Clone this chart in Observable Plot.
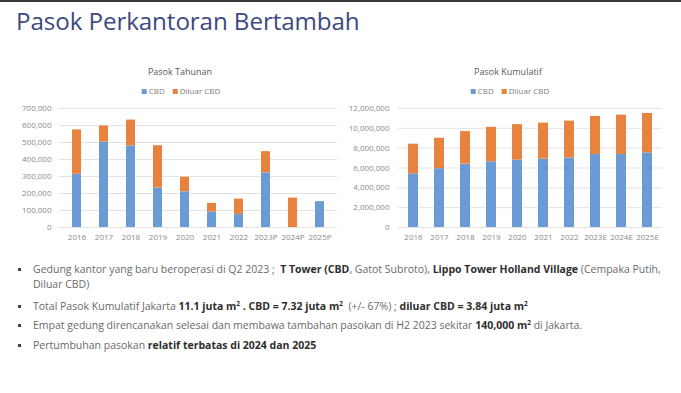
<!DOCTYPE html>
<html>
<head>
<meta charset="utf-8">
<script src="https://cdn.jsdelivr.net/npm/d3@7"></script>
<script src="https://cdn.jsdelivr.net/npm/@observablehq/plot@0.6"></script>
<style>
  html, body { margin: 0; padding: 0; background: #fff; }
  #page { position: relative; width: 681px; height: 393px; overflow: hidden; background: #fff; font-family: "Open Sans", sans-serif; }
  #topbar { position: absolute; left: 0; top: 0; width: 681px; height: 2px; background: #3a3a3a; }
  #title { position: absolute; left: 16px; top: 4px; font-size: 24.2px; color: #3c4a83; white-space: nowrap; letter-spacing: -0.1px; }
  .ctitle { position: absolute; top: 65px; font-size: 9px; color: #595959; white-space: nowrap; transform: translateX(-50%); }
  .legend { position: absolute; top: 85px; font-size: 8px; color: #7f7f7f; white-space: nowrap; transform: translateX(-50%); }
  .legend span.sw { display: inline-block; width: 5px; height: 5px; margin-right: 2px; vertical-align: 0px; }
  .legend span.it { margin-right: 8px; }
  .chart { position: absolute; top: 100px; }
  #bullets { position: absolute; left: 0; top: 262px; width: 681px; font-size: 10.5px; color: #6a6a6a; }
  .b { position: absolute; left: 33px; white-space: nowrap; line-height: 15px; }
  .b::before { content: ""; position: absolute; left: -15px; top: 6px; width: 3px; height: 3px; background: #444; }
  .b strong { color: #2e2e2e; font-weight: 700; }
  sup { font-size: 6.5px; vertical-align: 4px; line-height: 0; }
</style>
</head>
<body>
<div id="page">
  <div id="topbar"></div>
  <div id="title">Pasok Perkantoran Bertambah</div>
  <div class="ctitle" style="left:180px">Pasok Tahunan</div>
  <div class="ctitle" style="left:508px">Pasok Kumulatif</div>
  <div class="legend" id="leg1" style="left:185px"></div>
  <div class="legend" id="leg2" style="left:514px"></div>
  <div class="chart" id="c1" style="left:0px"></div>
  <div class="chart" id="c2" style="left:340px"></div>
  <div id="bullets">
    <div class="b" style="top:0px">Gedung kantor yang baru beroperasi di Q2 2023 ;&nbsp; <strong>T Tower (CBD</strong>, Gatot Subroto), <strong>Lippo Tower Holland Village</strong> (Cempaka Putih,<br>Diluar CBD)</div>
    <div class="b" style="top:37px">Total Pasok Kumulatif Jakarta <strong>11.1 juta m<sup>2</sup> . CBD = 7.32 juta m<sup>2</sup></strong>&nbsp; (+/- 67%) ; <strong>diluar CBD = 3.84 juta m<sup>2</sup></strong></div>
    <div class="b" style="top:56px">Empat gedung direncanakan selesai dan membawa tambahan pasokan di H2 2023 sekitar <strong>140,000 m<sup>2</sup></strong> di Jakarta.</div>
    <div class="b" style="top:76px">Pertumbuhan pasokan <strong>relatif terbatas di 2024 dan 2025</strong></div>
  </div>
</div>
<script>
// ---- data ----
const seriesNames = ["CBD", "Diluar CBD"];
const seriesColors = ["#6b9bd4", "#e8823f"];

const years1 = ["2016", "2017", "2018", "2019", "2020", "2021", "2022", "2023P", "2024P", "2025P"];
const cbd1 = [313000, 502000, 480000, 232000, 210000, 91000, 76000, 321000, 0, 152000];
const diluar1 = [261000, 95000, 152000, 249000, 86000, 51000, 91000, 125000, 173000, 0];
const yTicks1 = [0, 100000, 200000, 300000, 400000, 500000, 600000, 700000];

const years2 = ["2016", "2017", "2018", "2019", "2020", "2021", "2022", "2023E", "2024E", "2025E"];
const cbd2 = [5400000, 5930000, 6400000, 6630000, 6800000, 6900000, 7000000, 7370000, 7370000, 7530000];
const diluar2 = [3000000, 3070000, 3270000, 3470000, 3570000, 3630000, 3730000, 3830000, 3960000, 3970000];
const yTicks2 = [0, 2000000, 4000000, 6000000, 8000000, 10000000, 12000000];

function longData(years, a, b) {
  const out = [];
  years.forEach((y, i) => {
    out.push({year: y, series: seriesNames[0], value: a[i]});
    out.push({year: y, series: seriesNames[1], value: b[i]});
  });
  return out;
}

function makeChart(years, a, b, ticks, opts) {
  const data = longData(years, a, b);
  return Plot.plot({
    width: opts.width,
    height: 150,
    marginTop: 8,
    marginBottom: 23,
    marginLeft: opts.marginLeft,
    marginRight: opts.marginRight,
    style: {fontFamily: "Open Sans, sans-serif", fontSize: "8px", color: "#8a8a8a", background: "transparent"},
    x: {domain: years, paddingInner: opts.pad, paddingOuter: opts.pad / 2, label: null, tickSize: 0, tickPadding: 7},
    y: {domain: [0, ticks[ticks.length - 1]], label: null},
    color: {domain: seriesNames, range: seriesColors},
    marks: [
      Plot.gridY(ticks, {stroke: "#dcdcdc", strokeOpacity: 1, strokeWidth: 0.8}),
      Plot.axisY(ticks, {tickSize: 0, tickPadding: opts.tickPad, tickFormat: d3.format(","), label: null}),
      Plot.barY(data, {x: "year", y: "value", fill: "series"}),
      Plot.axisX({tickSize: 0, tickPadding: 7, label: null})
    ]
  });
}

document.getElementById("c1").appendChild(makeChart(years1, cbd1, diluar1, yTicks1, {width: 340, marginLeft: 59, marginRight: 3, pad: 0.68, tickPad: 8}));
document.getElementById("c2").appendChild(makeChart(years2, cbd2, diluar2, yTicks2, {width: 341, marginLeft: 58, marginRight: 19, pad: 0.62, tickPad: 9}));

function legend(id) {
  const el = document.getElementById(id);
  el.innerHTML = seriesNames.map((s, i) =>
    `<span class="it"><span class="sw" style="background:${seriesColors[i]}"></span>${s}</span>`).join("");
}
legend("leg1"); legend("leg2");
</script>
</body>
</html>
